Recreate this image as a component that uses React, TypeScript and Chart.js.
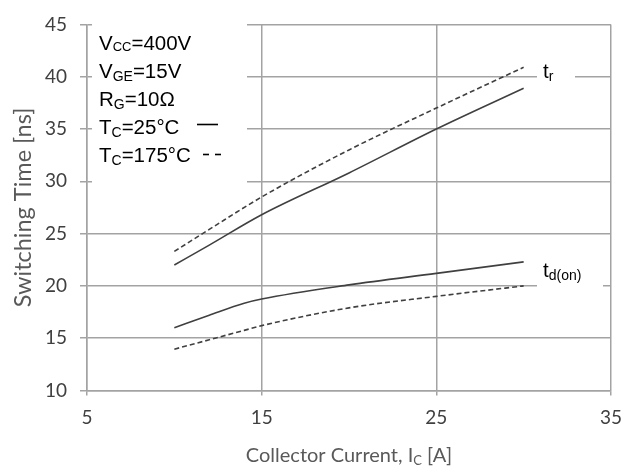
import React, { useEffect, useRef } from "react";
import { Chart, registerables } from "chart.js";

Chart.register(...registerables);

// ---- data ----
const trX = [10, 12, 15, 20, 25, 30];
const tr25 = [22.0, 23.9, 26.8, 30.8, 35.0, 38.9];
const tr175 = [23.3, 25.4, 28.5, 33.0, 37.0, 40.9];

const tdX = [10, 12, 14, 15, 20, 25, 30];
const td25 = [16.0, 17.2, 18.35, 18.75, 20.1, 21.2, 22.3];
const td175 = [13.95, 14.85, 15.75, 16.2, 17.9, 19.0, 20.0];

const xMin = 5;
const xMax = 35;
const xStep = 10;
const yMin = 10;
const yMax = 45;
const yStep = 5;

const yTitle = "Switching Time [ns]";
const xTitleParts = ["Collector Current, I", "C", " [A]"];

type Part = { t: string; size: number; dy: number };

const legendLines: Part[][] = [
  [
    { t: "V", size: 20.5, dy: 0 },
    { t: "CC", size: 13, dy: 1 },
    { t: "=400V", size: 20.5, dy: 0 },
  ],
  [
    { t: "V", size: 20.5, dy: 0 },
    { t: "GE", size: 14, dy: 3 },
    { t: "=15V", size: 20.5, dy: 0 },
  ],
  [
    { t: "R", size: 20.5, dy: 0 },
    { t: "G", size: 14, dy: 3 },
    { t: "=10Ω", size: 20.5, dy: 0 },
  ],
  [
    { t: "T", size: 20.5, dy: 0 },
    { t: "C", size: 14, dy: 3 },
    { t: "=25°C", size: 20.5, dy: 0 },
  ],
  [
    { t: "T", size: 20.5, dy: 0 },
    { t: "C", size: 14, dy: 3 },
    { t: "=175°C", size: 20.5, dy: 0 },
  ],
];

const trLabel: Part[] = [
  { t: "t", size: 20.5, dy: 0 },
  { t: "r", size: 14, dy: 3 },
];
const tdLabel: Part[] = [
  { t: "t", size: 20.5, dy: 0 },
  { t: "d(on)", size: 14, dy: 3 },
];

const LINE_COLOR = "#404040";
const GRID_COLOR = "#a3a3a3";
const TICK_COLOR = "#404040";
const TITLE_COLOR = "#595959";
const AXIS_FONT = "Lato, 'Open Sans', sans-serif";
const TEXT_FONT = "'Liberation Sans', Arial, sans-serif";

function drawRich(
  ctx: CanvasRenderingContext2D,
  x: number,
  y: number,
  parts: Part[],
  family: string
) {
  let cx = x;
  for (const p of parts) {
    ctx.font = `${p.size}px ${family}`;
    ctx.fillText(p.t, cx, y + p.dy);
    cx += ctx.measureText(p.t).width;
  }
  return cx;
}

const overlayPlugin = {
  id: "overlay",
  beforeDatasetsDraw(chart: any) {
    const ctx: CanvasRenderingContext2D = chart.ctx;
    ctx.save();
    ctx.fillStyle = "#ffffff";
    // legend box
    ctx.fillRect(92, 22, 155, 178);
    // t_r label box
    ctx.fillRect(537, 57, 38, 29);
    // t_d(on) label box
    ctx.fillRect(537, 262, 66, 30);
    ctx.restore();
  },
  afterDatasetsDraw(chart: any) {
    const ctx: CanvasRenderingContext2D = chart.ctx;
    const { chartArea } = chart;
    ctx.save();
    ctx.fillStyle = "#000000";
    ctx.textBaseline = "alphabetic";
    ctx.textAlign = "left";
    const baselines = [50, 78, 106, 133.5, 162];
    legendLines.forEach((parts, i) => drawRich(ctx, 99, baselines[i], parts, TEXT_FONT));

    // legend line samples
    ctx.strokeStyle = "#000000";
    ctx.lineWidth = 1.6;
    ctx.beginPath();
    ctx.moveTo(197, 124.5);
    ctx.lineTo(218, 124.5);
    ctx.stroke();
    ctx.setLineDash([6, 6]);
    ctx.beginPath();
    ctx.moveTo(203, 154.5);
    ctx.lineTo(223, 154.5);
    ctx.stroke();
    ctx.setLineDash([]);

    drawRich(ctx, 543, 78, trLabel, TEXT_FONT);
    drawRich(ctx, 543, 277, tdLabel, TEXT_FONT);

    // y title
    ctx.fillStyle = TITLE_COLOR;
    ctx.save();
    ctx.translate(23, (chartArea.top + chartArea.bottom) / 2);
    ctx.rotate(-Math.PI / 2);
    ctx.font = `23.5px ${AXIS_FONT}`;
    ctx.textAlign = "center";
    ctx.textBaseline = "middle";
    ctx.fillText(yTitle, 0, 0);
    ctx.restore();

    // x title with subscript
    const big = `20px ${AXIS_FONT}`;
    const small = `13px ${AXIS_FONT}`;
    ctx.font = big;
    const w0 = ctx.measureText(xTitleParts[0]).width;
    const w2 = ctx.measureText(xTitleParts[2]).width;
    ctx.font = small;
    const w1 = ctx.measureText(xTitleParts[1]).width;
    const total = w0 + w1 + w2;
    let cx = (chartArea.left + chartArea.right) / 2 - total / 2;
    const by = 462;
    ctx.textAlign = "left";
    ctx.textBaseline = "alphabetic";
    ctx.font = big;
    ctx.fillText(xTitleParts[0], cx, by);
    cx += w0;
    ctx.font = small;
    ctx.fillText(xTitleParts[1], cx, by + 3);
    cx += w1;
    ctx.font = big;
    ctx.fillText(xTitleParts[2], cx, by);
    ctx.restore();
  },
};

function toPts(xs: number[], ys: number[]) {
  return xs.map((x, i) => ({ x, y: ys[i] }));
}

export default function App() {
  const ref = useRef<HTMLCanvasElement | null>(null);

  useEffect(() => {
    if (!ref.current) return;
    const lineBase = {
      borderColor: LINE_COLOR,
      borderWidth: 1.6,
      pointRadius: 0,
      fill: false,
      cubicInterpolationMode: "monotone" as const,
    };
    const chart = new Chart(ref.current, {
      type: "line",
      data: {
        datasets: [
          { ...lineBase, label: "tr 25°C", data: toPts(trX, tr25) },
          { ...lineBase, label: "tr 175°C", data: toPts(trX, tr175), borderDash: [5, 3] },
          { ...lineBase, label: "td(on) 25°C", data: toPts(tdX, td25) },
          { ...lineBase, label: "td(on) 175°C", data: toPts(tdX, td175), borderDash: [5, 3] },
        ],
      },
      options: {
        animation: false,
        responsive: false,
        events: [],
        layout: { padding: { left: 0, right: 20.5, top: 18.5, bottom: 0 } },
        plugins: {
          legend: { display: false },
          tooltip: { enabled: false },
          title: { display: false },
        },
        scales: {
          x: {
            type: "linear",
            min: xMin,
            max: xMax,
            ticks: {
              stepSize: xStep,
              color: TICK_COLOR,
              font: { family: AXIS_FONT, size: 19 },
              padding: 11,
              maxRotation: 0,
            },
            grid: { color: GRID_COLOR, lineWidth: 1.5, tickLength: 5, drawTicks: true },
            border: { display: true, color: GRID_COLOR, width: 1.5 },
            afterFit: (s: any) => {
              s.height = 77.5;
            },
          },
          y: {
            type: "linear",
            min: yMin,
            max: yMax,
            ticks: {
              stepSize: yStep,
              color: TICK_COLOR,
              font: { family: AXIS_FONT, size: 19 },
              padding: 13,
            },
            grid: { color: GRID_COLOR, lineWidth: 1.5, tickLength: 7, drawTicks: true },
            border: { display: true, color: GRID_COLOR, width: 1.5 },
            afterFit: (s: any) => {
              s.width = 87;
            },
          },
        },
      },
      plugins: [overlayPlugin],
    });
    return () => chart.destroy();
  }, []);

  return (
    <div style={{ position: "fixed", left: 0, top: 0, width: 633, height: 468, background: "#fff" }}>
      <canvas ref={ref} width={633} height={468} style={{ display: "block" }} />
    </div>
  );
}
